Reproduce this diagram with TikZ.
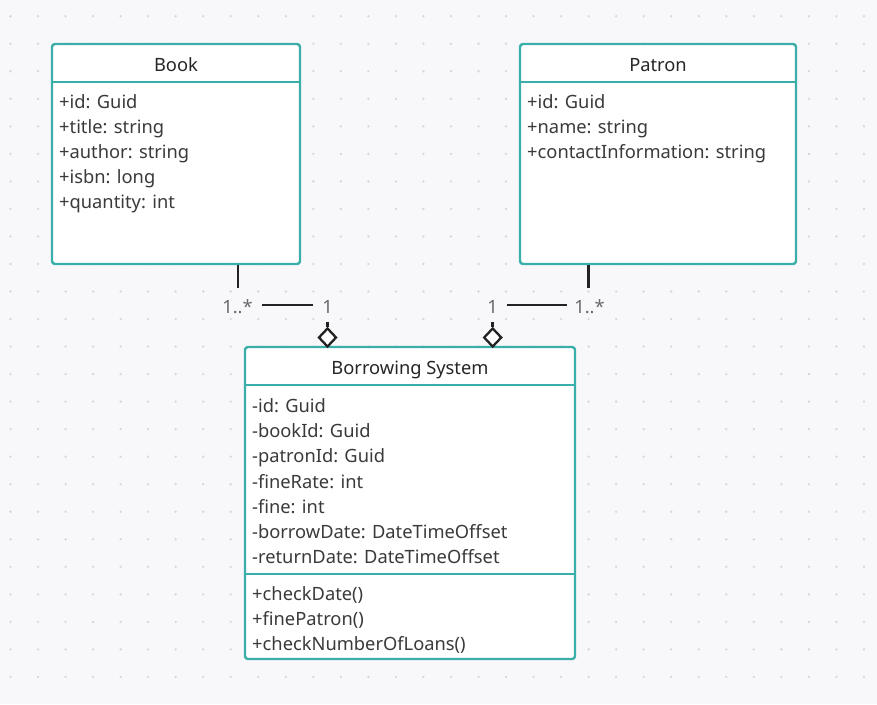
\documentclass[tikz,border=0pt]{standalone}
\usepackage{fontspec}
\setmainfont{Noto Sans}
\usetikzlibrary{shapes.geometric}
\definecolor{canvas}{HTML}{F8F8FA}
\definecolor{griddot}{HTML}{D6D6DC}
\definecolor{frame}{HTML}{3AAEA8}
\definecolor{ink}{HTML}{222222}
\definecolor{bodytext}{HTML}{3A3A3A}
\definecolor{headtext}{HTML}{262626}
\definecolor{multtext}{HTML}{6A6A6A}
\begin{document}
\begin{tikzpicture}[x=1pt,y=-1pt,
  classbox/.style={draw=frame, line width=2.4pt, fill=white, rounded corners=3pt, inner sep=0pt},
  divider/.style={draw=frame, line width=2.4pt},
  headtxt/.style={anchor=base, inner sep=0pt, text=headtext, font=\fontsize{18.3}{22}\selectfont},
  attr/.style={anchor=base west, inner sep=0pt, text=bodytext, font=\fontsize{18.3}{22}\selectfont},
  mult/.style={anchor=base, inner sep=0pt, text=multtext, font=\fontsize{18.3}{22}\selectfont},
  wire/.style={draw=ink, line width=2.5pt},
  agg/.style={diamond, draw=ink, fill=white, line width=2.3pt, inner sep=0pt, minimum width=18pt, minimum height=19pt}]

% canvas and dot grid
\fill[canvas] (0,0) rectangle (877,704);
\useasboundingbox (0,0) rectangle (877,704);
\foreach \i in {0,...,31}{
  \foreach \j in {0,...,24}{
    \fill[griddot] (10.5+27.53*\i,16.2+27.53*\j) circle (1.3pt);
  }
}

% Book
\node[classbox, minimum width=248pt, minimum height=220pt] (book) at (176,154) {};
\draw[divider] (book.west |- 0,82) -- (book.east |- 0,82);
\node[headtxt] (bookT) at (176,71) {Book};
\node[attr] (b1) at (59,108) {+id: Guid};
\node[attr] (b2) at (59,133.2) {+title: string};
\node[attr] (b3) at (59,158.4) {+author: string};
\node[attr] (b4) at (59,183.6) {+isbn: long};
\node[attr] (b5) at (59,208.8) {+quantity: int};

% Patron
\node[classbox, minimum width=276pt, minimum height=220pt] (patron) at (658,154) {};
\draw[divider] (patron.west |- 0,82) -- (patron.east |- 0,82);
\node[headtxt] (patronT) at (658,71) {Patron};
\node[attr] (p1) at (527,108) {+id: Guid};
\node[attr] (p2) at (527,133.2) {+name: string};
\node[attr] (p3) at (527,158.4) {+contactInformation: string};

% Borrowing System
\node[classbox, minimum width=330pt, minimum height=312pt] (borrow) at (410,503) {};
\draw[divider] (borrow.west |- 0,385) -- (borrow.east |- 0,385);
\draw[divider] (borrow.west |- 0,574) -- (borrow.east |- 0,574);
\node[headtxt] (borrowT) at (410,374) {Borrowing System};
\node[attr] (s1) at (252,412.7) {-id: Guid};
\node[attr] (s2) at (252,437.8) {-bookId: Guid};
\node[attr] (s3) at (252,462.9) {-patronId: Guid};
\node[attr] (s4) at (252,488.0) {-fineRate: int};
\node[attr] (s5) at (252,513.1) {-fine: int};
\node[attr] (s6) at (252,538.2) {-borrowDate: DateTimeOffset};
\node[attr] (s7) at (252,563.3) {-returnDate: DateTimeOffset};
\node[attr] (m1) at (252,600.7) {+checkDate()};
\node[attr] (m2) at (252,625.8) {+finePatron()};
\node[attr] (m3) at (252,650.9) {+checkNumberOfLoans()};

% Book -- Borrowing System aggregation
\node[mult] (bm1) at (237.5,313) {1..*};
\node[mult] (bm2) at (327.5,313) {1};
\node[agg] (bd) at (327.5,337.5) {};
\coordinate (bA) at (238,288);
\coordinate (bB) at (262,305);
\coordinate (bC) at (313,305);
\coordinate (bD) at (327.5,322);
\draw[wire] (book.south -| bA) -- (bA);
\draw[wire] (bB) -- (bC);
\draw[wire] (bd.north) -- (bD);

% Patron -- Borrowing System aggregation
\node[mult] (pm1) at (492.7,313) {1};
\node[mult] (pm2) at (589.5,313) {1..*};
\node[agg] (pd) at (492.7,337.5) {};
\coordinate (pA) at (588.5,288);
\coordinate (pB) at (506.5,305);
\coordinate (pC) at (566.5,305);
\coordinate (pD) at (492.7,322);
\draw[wire] (patron.south -| pA) -- (pA);
\draw[wire] (pB) -- (pC);
\draw[wire] (pd.north) -- (pD);
\end{tikzpicture}
\end{document}
